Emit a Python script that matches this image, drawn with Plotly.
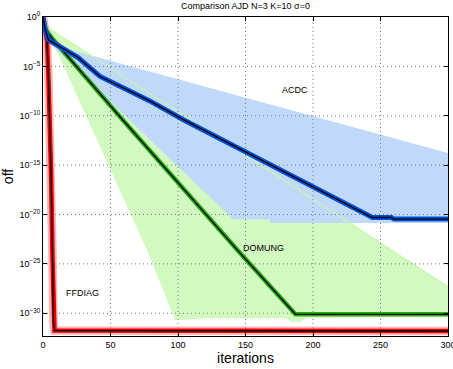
import plotly.graph_objects as go

# ---------------- data ----------------
title_text = "Comparison AJD N=3 K=10 σ=0"
x_ticks = [0, 50, 100, 150, 200, 250, 300]
y_ticks = [1e-30, 1e-25, 1e-20, 1e-15, 1e-10, 1e-5, 1e0]
y_ticktext = ["10<sup>−30</sup>", "10<sup>−25</sup>", "10<sup>−20</sup>", "10<sup>−15</sup>",
              "10<sup>−10</sup>", "10<sup>−5</sup>", "10<sup>0</sup>"]

# ACDC (blue)
acdc_x = [0, 1.5, 4, 11, 18, 26, 42, 79, 104, 244, 258, 260, 300]
acdc_y = [1.0, 6.3e-2, 5.0e-3, 1.3e-3, 3.2e-4, 7.9e-5, 1.0e-6, 3.2e-9, 4.0e-11,
          5.0e-21, 5.0e-21, 3.5e-21, 3.5e-21]
acdc_up_x = [0, 2, 5, 15, 79, 300]
acdc_up_y = [1.0, 1.0e-1, 1.0e-2, 7.9e-4, 3.1e-6, 1.7e-14]
acdc_lo_x = [0, 3, 10, 79, 141, 168, 168.5, 300]
acdc_lo_y = [1.0, 4.0e-3, 4.0e-4, 4.0e-13, 3.2e-21, 3.2e-21, 1.4e-21, 1.4e-21]

# DOMUNG (green)
domung_x = [0, 2, 7, 57, 144, 187, 300]
domung_y = [1.0, 5.0e-2, 6.3e-3, 7.9e-11, 2.5e-24, 7.9e-31, 7.9e-31]
domung_up_x = [0, 3, 300]
domung_up_y = [1.0, 1.0e-1, 5.0e-28]
domung_lo_x = [0, 2, 33, 77, 98, 120, 180, 184, 190, 195, 300]
domung_lo_y = [1.0, 1.0e-1, 4.0e-11, 2.5e-24, 2.0e-31, 3.2e-31, 3.2e-31, 1.3e-31,
               1.3e-31, 3.2e-31, 4.5e-31]

# FFDIAG (red)
ffdiag_x = [0, 2, 3, 4, 5, 6, 7, 7.7, 8.5, 300]
ffdiag_y = [1.0, 3.2e-2, 3.2e-3, 1.0e-6, 1.0e-10, 1.0e-16, 1.0e-24, 1.0e-31, 1.8e-32, 1.6e-32]

labels = ["ACDC", "DOMUNG", "FFDIAG"]
label_x = [187, 163, 29]
label_logy = [-7.4, -23.4, -27.9]

x_range = [0, 300]
y_log_range = [-32.3, 0]

# ---------------- figure ----------------
fig = go.Figure()

def band(xu, yu, xl, yl, color):
    fig.add_trace(go.Scatter(x=list(xu) + list(xl)[::-1], y=list(yu) + list(yl)[::-1],
                             fill="toself", fillcolor=color, mode="lines",
                             line=dict(width=0, color=color), hoverinfo="skip"))

band(domung_up_x, domung_up_y, domung_lo_x, domung_lo_y, "rgb(210,250,192)")
band(acdc_up_x, acdc_up_y, acdc_lo_x, acdc_lo_y, "rgb(192,217,250)")
# visible edge of the green band over the blue band
fig.add_trace(go.Scatter(x=domung_up_x, y=domung_up_y, mode="lines",
                         line=dict(width=1.2, color="rgb(200,245,170)"), hoverinfo="skip"))

# grid drawn above the bands
gcol = "rgb(120,120,120)"
gdash = "1px,3px"
for xv in x_ticks[1:-1]:
    fig.add_trace(go.Scatter(x=[xv, xv], y=[10 ** y_log_range[0], 10 ** y_log_range[1]],
                             mode="lines", line=dict(width=1, color=gcol, dash=gdash),
                             hoverinfo="skip"))
for yv in y_ticks[:-1]:
    fig.add_trace(go.Scatter(x=x_range, y=[yv, yv], mode="lines",
                             line=dict(width=1, color=gcol, dash=gdash), hoverinfo="skip"))

def curve(x, y, color, width, halo=None):
    if halo:
        fig.add_trace(go.Scatter(x=x, y=y, mode="lines",
                                 line=dict(width=width + 4, color=halo), hoverinfo="skip"))
    fig.add_trace(go.Scatter(x=x, y=y, mode="lines", line=dict(width=width, color=color),
                             hoverinfo="skip"))
    fig.add_trace(go.Scatter(x=x, y=y, mode="lines", line=dict(width=1.3, color="black"),
                             hoverinfo="skip"))

curve(ffdiag_x, ffdiag_y, "rgb(235,0,0)", 4.5, halo="rgba(255,120,120,0.55)")
curve(domung_x, domung_y, "rgb(40,170,20)", 4.5)
curve(acdc_x, acdc_y, "rgb(0,80,215)", 5)

for t, xv, yv in zip(labels, label_x, label_logy):
    fig.add_annotation(x=xv, y=yv, text=t, showarrow=False,
                       font=dict(size=9, color="black"))

axis_common = dict(showline=True, linecolor="black", linewidth=1, mirror="ticks",
                   ticks="inside", ticklen=4, tickcolor="black", showgrid=False,
                   zeroline=False, automargin=False, ticklabeloverflow="allow",
                   tickfont=dict(size=9, color="black"))

fig.update_layout(
    width=453, height=369,
    margin=dict(l=43, r=5, t=17, b=33, autoexpand=False),
    paper_bgcolor="white", plot_bgcolor="white",
    font=dict(family="Liberation Sans, Arial, sans-serif", color="black"),
    showlegend=False,
    title=dict(text=title_text, x=0.5, xref="paper", xanchor="center",
               y=1, yref="container", yanchor="top", pad=dict(t=3),
               font=dict(size=9, color="black")),
    xaxis=dict(range=x_range, tickvals=x_ticks,
               title=dict(text="iterations", font=dict(size=14), standoff=0),
               **axis_common),
    yaxis=dict(type="log", range=y_log_range, tickvals=y_ticks, ticktext=y_ticktext,
               title=dict(text="off", font=dict(size=14), standoff=3),
               **axis_common),
)

fig.write_html("out.html", config={"displayModeBar": False},
               post_script="document.body.style.margin='0';")
